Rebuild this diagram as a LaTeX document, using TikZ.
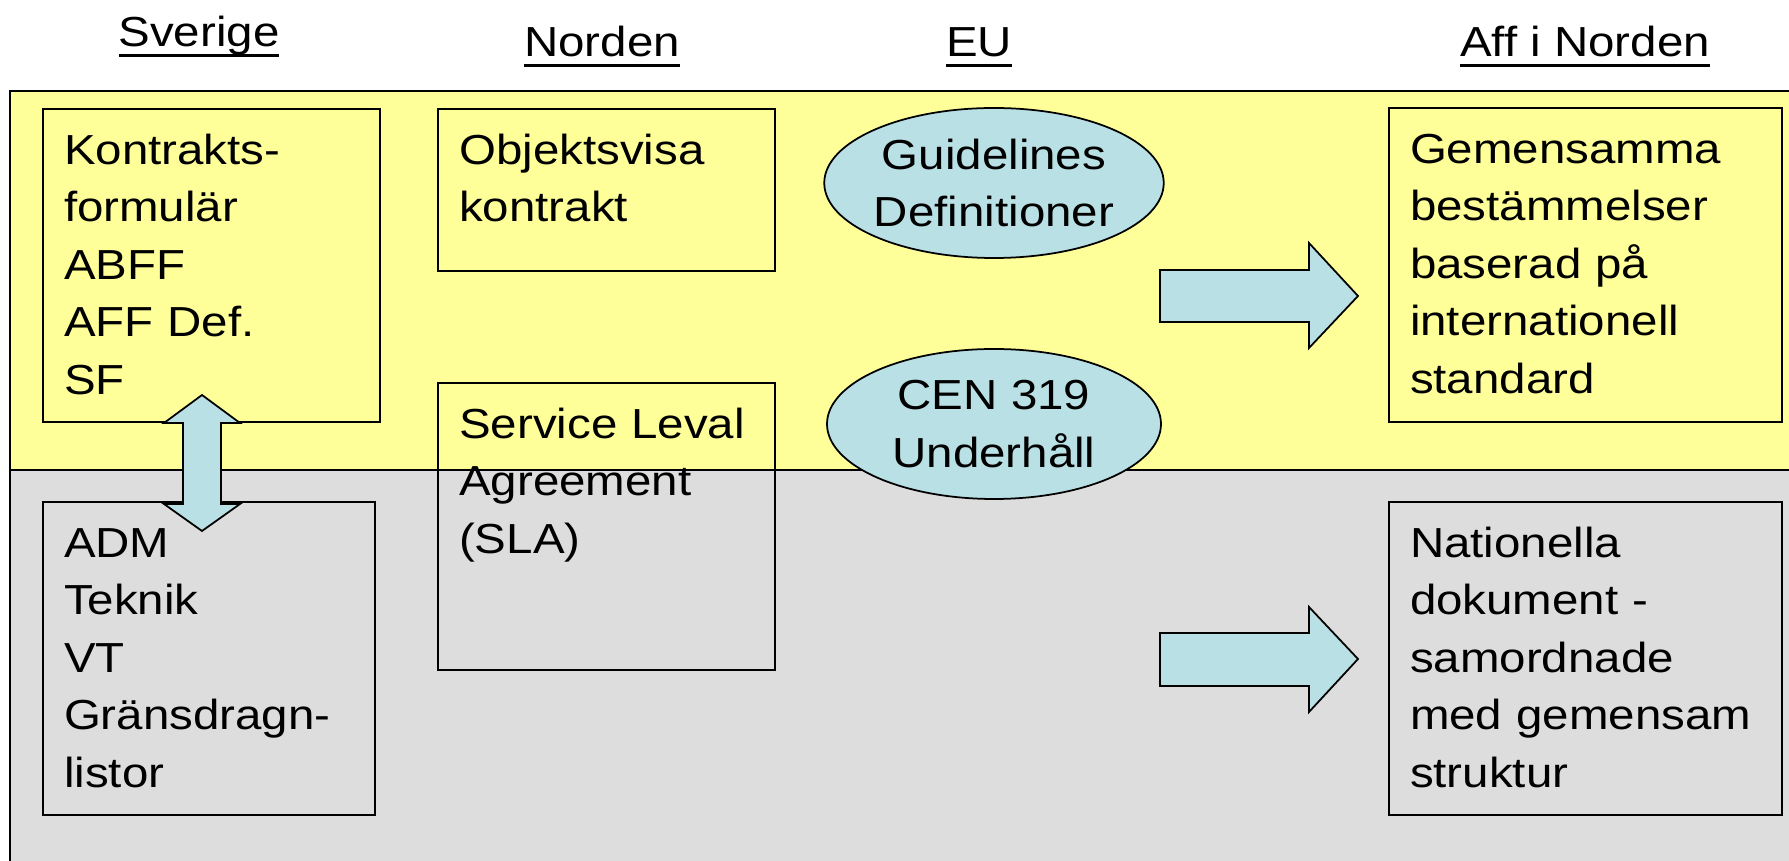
\documentclass[tikz,border=0pt]{standalone}
\usepackage{fontspec}
\setmainfont[FakeStretch=1.13]{Liberation Sans}
\usetikzlibrary{shapes.geometric, positioning}
\definecolor{panelyellow}{RGB}{255, 255, 153}
\definecolor{panelgray}{RGB}{221, 221, 221}
\definecolor{ovalblue}{RGB}{185, 224, 228}
\newcommand{\bodyfont}{\fontsize{11.95pt}{16.37pt}\selectfont}
\newcommand{\hdrul}[1]{\setbox0=\hbox{#1}\rlap{\rule[-2.9pt]{\wd0}{0.95pt}}\box0}
\tikzstyle{panel} = [draw=black, line width=0.6pt]
\tikzstyle{docbox} = [draw=black, line width=0.6pt, anchor=north west, align=left, inner xsep=0.21cm, inner ysep=0pt, text height=0.55cm, font=\bodyfont]
\tikzstyle{oval} = [ellipse, draw=black, line width=0.5pt, fill=ovalblue, minimum width=3.34cm, minimum height=1.5cm, inner sep=0pt, align=center, font=\bodyfont]
\tikzstyle{blockarrow} = [draw=black, line width=0.5pt, fill=ovalblue]
\tikzstyle{header} = [anchor=base, inner sep=0pt, font=\bodyfont]

\begin{document}
\begin{tikzpicture}
\useasboundingbox (0,0) rectangle (17.89,-8.61);
% the two bands
\draw[panel, fill=panelyellow] (0.10,-0.91) rectangle (18.50,-4.70);
\draw[panel, fill=panelgray] (0.10,-4.70) rectangle (18.50,-9.20);

% column heads
\node[header] (hsverige) at (1.99,-0.47) {\hdrul{Sverige}};
\node[header] (hnorden) at (6.02,-0.57) {\hdrul{Norden}};
\node[header] (heu) at (9.79,-0.57) {\hdrul{EU}};
\node[header] (haff) at (15.85,-0.57) {\hdrul{Aff i Norden}};

% documents
\node[docbox, text width=2.95cm, text depth=2.58cm] (kontrakt) at (0.42,-1.08) {Kontrakts-\\formulär\\ABFF\\AFF Def.\\SF};
\node[docbox, text width=2.95cm, text depth=1.07cm, right=0.56cm of kontrakt.north east, anchor=north west] (objekt) {Objektsvisa\\kontrakt};
\node[docbox, text width=2.95cm, text depth=2.32cm, below=1.10cm of objekt.south west, anchor=north west] (sla) {Service Leval\\Agreement\\(SLA)};
\node[docbox, text width=2.90cm, text depth=2.58cm] (adm) at (0.42,-5.01) {ADM\\Teknik\\VT\\Gränsdragn-\\listor};
\node[docbox, text width=3.51cm, text depth=2.59cm] (gemensam) at (13.88,-1.07) {Gemensamma\\bestämmelser\\baserad på\\internationell\\standard};
\node[docbox, text width=3.51cm, text depth=2.58cm] (nationell) at (13.88,-5.01) {Nationella\\dokument -\\samordnade\\med gemensam\\struktur};

% arrows
\draw[blockarrow] (2.02,-3.95) -- (2.40,-4.23) -- (2.21,-4.23) -- (2.21,-5.04) -- (2.40,-5.04) -- (2.02,-5.31) -- (1.64,-5.04) -- (1.83,-5.04) -- (1.83,-4.23) -- (1.64,-4.23) -- cycle;
\draw[blockarrow] (11.60,-2.70) -- (13.09,-2.70) -- (13.09,-2.43) -- (13.58,-2.96) -- (13.09,-3.48) -- (13.09,-3.22) -- (11.60,-3.22) -- cycle;
\draw[blockarrow] (11.60,-6.33) -- (13.09,-6.33) -- (13.09,-6.07) -- (13.58,-6.59) -- (13.09,-7.12) -- (13.09,-6.86) -- (11.60,-6.86) -- cycle;

% EU
\node[oval] (guide) at (9.94,-1.83) {Guidelines\\Definitioner};
\node[oval] (cen) at (9.94,-4.24) {CEN 319\\Underhåll};
\end{tikzpicture}
\end{document}
